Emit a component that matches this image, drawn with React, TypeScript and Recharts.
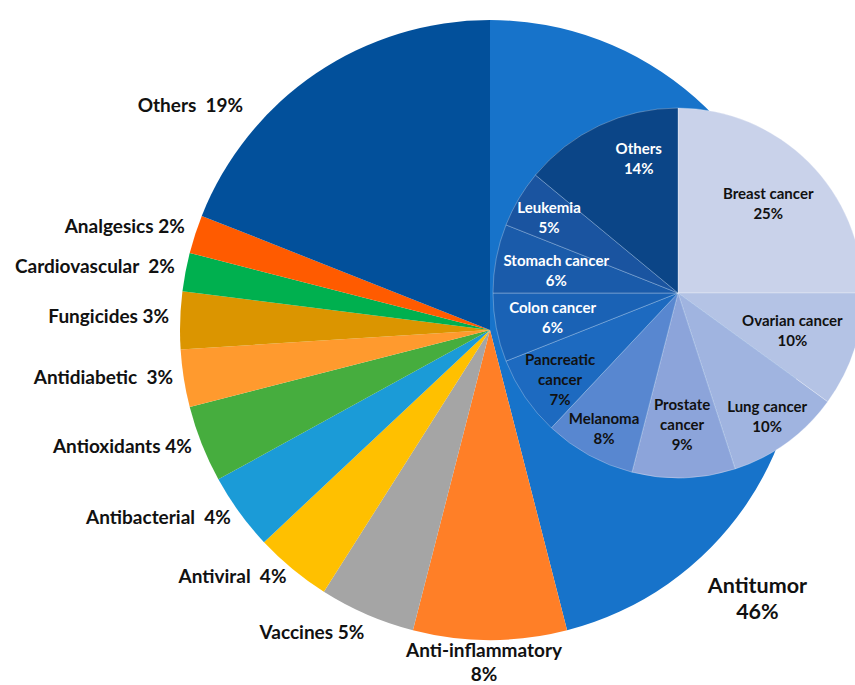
import { PieChart, Pie, Cell } from "recharts";

const drugClasses = [
  "Antitumor",
  "Anti-inflammatory",
  "Vaccines",
  "Antiviral",
  "Antibacterial",
  "Antioxidants",
  "Antidiabetic",
  "Fungicides",
  "Cardiovascular",
  "Analgesics",
  "Others",
];
const drugShares = [46, 8, 5, 4, 4, 4, 3, 3, 2, 2, 19];
const drugColors = [
  "#1773CA",
  "#FF7F27",
  "#A5A5A5",
  "#FFC000",
  "#1B9BD7",
  "#46AD3E",
  "#FF9A2E",
  "#DB9500",
  "#00B04F",
  "#FF5B00",
  "#02509B",
];
// gap between name and percent, as in the source labels
const drugGaps = [" ", " ", " ", "  ", "  ", " ", "  ", " ", "  ", " ", "  "];

const cancerTypes = [
  "Breast cancer",
  "Ovarian cancer",
  "Lung cancer",
  "Prostate\ncancer",
  "Melanoma",
  "Pancreatic\ncancer",
  "Colon cancer",
  "Stomach cancer",
  "Leukemia",
  "Others",
];
const cancerShares = [25, 10, 10, 9, 8, 7, 6, 6, 5, 14];
const cancerColors = [
  "#C9D2EA",
  "#B4C3E5",
  "#A0B4E0",
  "#8CA4DA",
  "#5887D0",
  "#1D6AC0",
  "#1A62B5",
  "#1A5BAA",
  "#1A54A0",
  "#0B4587",
];
const cancerTextColors = ["#111", "#111", "#111", "#111", "#111", "#111", "#fff", "#fff", "#fff", "#fff"];
// label placement inside the inner pie: [radius fraction, angle nudge in degrees]
const cancerLabelSpots = [
  [0.69, 0],
  [0.65, 0],
  [0.82, 0],
  [0.71, 0],
  [0.83, 0],
  [0.79, 2],
  [0.69, 0],
  [0.67, 0],
  [0.81, 0],
  [0.76, -9],
];

const drugData = drugClasses.map((name, i) => ({ name, value: drugShares[i] }));
const cancerData = cancerTypes.map((name, i) => ({ name, value: cancerShares[i] }));

const FONT = "Lato, 'Noto Sans', sans-serif";
const RAD = Math.PI / 180;

function polar(cx: number, cy: number, r: number, angle: number) {
  return { x: cx + r * Math.cos(-angle * RAD), y: cy + r * Math.sin(-angle * RAD) };
}

function OuterLabel(props: any) {
  const { cx, cy, midAngle, outerRadius, index } = props;
  const name = drugClasses[index];
  const pct = `${drugShares[index]}%`;

  // Antitumor and Others were moved off their slices in the original layout
  if (index === 0) {
    const p = polar(cx, cy, outerRadius * 1.22, -45);
    return (
      <text x={p.x} y={p.y} textAnchor="middle" fontFamily={FONT} fontWeight={700} fontSize={21.5} fill="#111">
        <tspan x={p.x} dy={-4}>{name}</tspan>
        <tspan x={p.x} dy={26}>{pct}</tspan>
      </text>
    );
  }
  if (index === 1) {
    const p = polar(cx, cy, outerRadius + 8, midAngle);
    return (
      <text x={p.x} y={p.y} textAnchor="middle" fontFamily={FONT} fontWeight={700} fontSize={19} fill="#111">
        <tspan x={p.x - 6} dy={9}>{name}</tspan>
        <tspan x={p.x - 6} dy={24}>{pct}</tspan>
      </text>
    );
  }
  if (index === drugClasses.length - 1) {
    const p = polar(cx, cy, outerRadius * 1.21, 143);
    return (
      <text x={p.x} y={p.y} textAnchor="middle" dominantBaseline="central" fontFamily={FONT} fontWeight={700} fontSize={19} fill="#111" style={{ whiteSpace: "pre" }}>
        {name + drugGaps[index] + pct}
      </text>
    );
  }
  const p = polar(cx, cy, outerRadius + 14, midAngle);
  const lift = index === 2 ? 4 : -4;
  return (
    <text x={p.x + 3} y={p.y + lift} textAnchor="end" dominantBaseline="central" fontFamily={FONT} fontWeight={700} fontSize={19} fill="#111" style={{ whiteSpace: "pre" }}>
      {name + drugGaps[index] + pct}
    </text>
  );
}

function InnerLabel(props: any) {
  const { cx, cy, midAngle, outerRadius, index } = props;
  const lines = [...cancerTypes[index].split("\n"), `${cancerShares[index]}%`];
  const [rf, nudge] = cancerLabelSpots[index];
  const p = polar(cx, cy, outerRadius * rf, midAngle + nudge);
  const step = 20;
  const top = p.y - ((lines.length - 1) * step) / 2;
  return (
    <text textAnchor="middle" dominantBaseline="central" fontFamily={FONT} fontWeight={700} fontSize={15} fill={cancerTextColors[index]}>
      {lines.map((line, i) => (
        <tspan key={i} x={p.x} y={top + i * step}>
          {line}
        </tspan>
      ))}
    </text>
  );
}

export default function App() {
  return (
    <div style={{ width: 855, height: 685, background: "#fff" }}>
      <style>{`
        body { margin: 0; }
        .recharts-pie-sectors { filter: drop-shadow(3px 3px 4px rgba(0,0,0,0.3)); }
      `}</style>
      <PieChart width={855} height={685} margin={{ top: 0, right: 0, bottom: 0, left: 0 }}>
        <Pie
          data={drugData}
          dataKey="value"
          nameKey="name"
          cx={490}
          cy={330}
          outerRadius={310}
          startAngle={90}
          endAngle={-270}
          stroke="none"
          label={OuterLabel}
          labelLine={false}
          isAnimationActive={false}
        >
          {drugData.map((d, i) => (
            <Cell key={d.name} fill={drugColors[i]} />
          ))}
        </Pie>
        <Pie
          data={cancerData}
          dataKey="value"
          nameKey="name"
          cx={678}
          cy={293}
          outerRadius={185}
          startAngle={90}
          endAngle={-270}
          stroke="rgba(255,255,255,0.35)"
          strokeWidth={0.8}
          label={InnerLabel}
          labelLine={false}
          isAnimationActive={false}
        >
          {cancerData.map((d, i) => (
            <Cell key={d.name} fill={cancerColors[i]} />
          ))}
        </Pie>
      </PieChart>
    </div>
  );
}
